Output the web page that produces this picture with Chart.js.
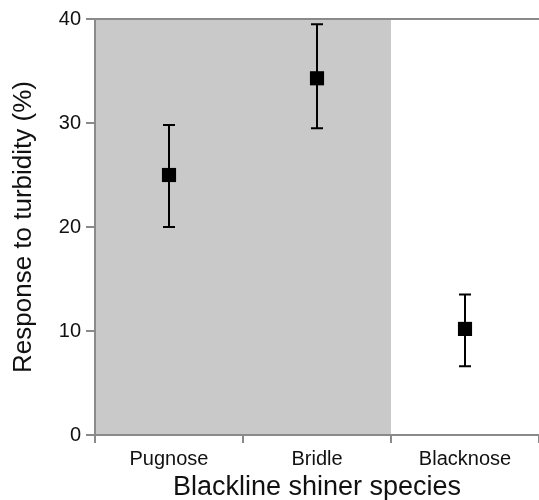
<!DOCTYPE html>
<html lang="en">
<head>
  <meta charset="UTF-8" />
  <title>Response to turbidity</title>
  <script src="https://cdn.jsdelivr.net/npm/chart.js"></script>
  <style>
    body { margin: 0; background: #fff; }
    #wrap { width: 539px; height: 500px; }
  </style>
</head>
<body>
<div id="wrap"><canvas id="chart"></canvas></div>
<script>
  const species = ['Pugnose', 'Bridle', 'Blacknose'];
  const response = [25.0, 34.3, 10.2];
  const upperErr = [29.8, 39.5, 13.5];
  const lowerErr = [20.0, 29.5, 6.6];
  const shadedCount = 2; // Pugnose + Bridle sit on the grey panel

  const axisGrey = '#8a8a8a';
  const font = 'Liberation Sans';

  // grey panel behind the first categories, plus the top frame line
  const panelPlugin = {
    id: 'panel',
    beforeDraw(chart) {
      const { ctx, chartArea, scales } = chart;
      const x = scales.x;
      const edge = (x.getPixelForValue(shadedCount - 1) + x.getPixelForValue(shadedCount)) / 2;
      ctx.save();
      ctx.fillStyle = '#c9c9c9';
      ctx.fillRect(chartArea.left, chartArea.top, edge - chartArea.left, chartArea.bottom - chartArea.top);
      ctx.strokeStyle = axisGrey;
      ctx.lineWidth = 2;
      ctx.beginPath();
      ctx.moveTo(chartArea.left, chartArea.top);
      ctx.lineTo(chartArea.right, chartArea.top);
      ctx.stroke();
      ctx.restore();
    }
  };

  const errorBarPlugin = {
    id: 'errorBars',
    beforeDatasetsDraw(chart) {
      const { ctx, scales } = chart;
      ctx.save();
      ctx.strokeStyle = '#000';
      ctx.lineWidth = 2;
      species.forEach((s, i) => {
        const px = scales.x.getPixelForValue(i);
        const top = scales.y.getPixelForValue(upperErr[i]);
        const bot = scales.y.getPixelForValue(lowerErr[i]);
        ctx.beginPath();
        ctx.moveTo(px, top); ctx.lineTo(px, bot);
        ctx.moveTo(px - 6, top); ctx.lineTo(px + 6, top);
        ctx.moveTo(px - 6, bot); ctx.lineTo(px + 6, bot);
        ctx.stroke();
      });
      ctx.restore();
    }
  };

  new Chart(document.getElementById('chart'), {
    type: 'line',
    data: {
      labels: species,
      datasets: [{
        data: response,
        showLine: false,
        pointStyle: 'rect',
        pointRadius: 10,
        pointBorderWidth: 0,
        pointBackgroundColor: '#000',
        pointBorderColor: '#000'
      }]
    },
    options: {
      responsive: true,
      maintainAspectRatio: false,
      animation: false,
      layout: { autoPadding: false, padding: { top: 19, right: 0, left: 0, bottom: 0 } },
      plugins: { legend: { display: false }, tooltip: { enabled: false } },
      scales: {
        x: {
          offset: true,
          grid: { offset: true, drawOnChartArea: false, drawTicks: true, tickLength: 8, color: axisGrey, lineWidth: 2 },
          border: { color: axisGrey, width: 2 },
          ticks: { color: '#111', font: { family: font, size: 20 }, padding: 4 },
          title: { display: true, text: 'Blackline shiner species', color: '#111', font: { family: font, size: 27 }, padding: { top: 0, bottom: -4 } },
          afterFit(scale) {
            scale.height = 65;
            scale.paddingLeft = 0;
            scale.paddingRight = 0;
          }
        },
        y: {
          min: 0,
          max: 40,
          grid: { drawOnChartArea: false, drawTicks: true, tickLength: 9, color: axisGrey, lineWidth: 2 },
          border: { color: axisGrey, width: 2 },
          ticks: { stepSize: 10, color: '#111', font: { family: font, size: 20 }, padding: 5 },
          title: { display: true, text: 'Response to turbidity (%)', color: '#111', font: { family: font, size: 26 }, padding: { top: 8, bottom: 0 } },
          afterFit(scale) { scale.width = 95; }
        }
      }
    },
    plugins: [panelPlugin, errorBarPlugin]
  });
</script>
</body>
</html>
